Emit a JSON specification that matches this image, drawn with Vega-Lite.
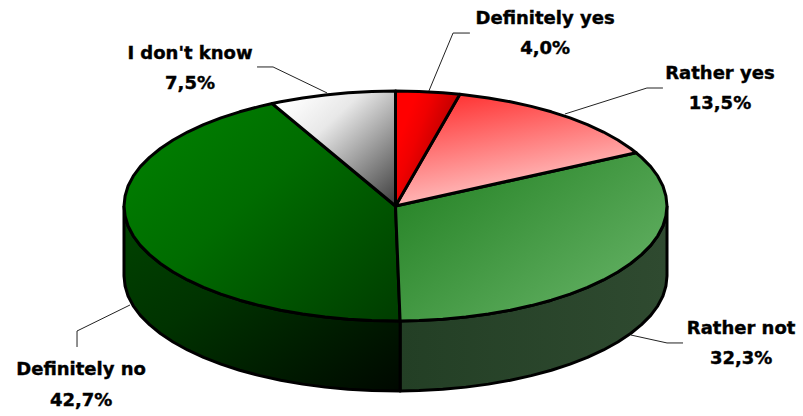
{"$schema":"https://vega.github.io/schema/vega-lite/v6.json","width":803,"height":416,"padding":0,"autosize":{"type":"fit","contains":"padding"},"background":"white","config":{"view":{"stroke":null}},
"datasets":{"pie":[
{"s":"Definitely yes","i":0,"u":0,"v":0},{"s":"Definitely yes","i":1,"u":0,"v":1},{"s":"Definitely yes","i":2,"u":0.087,"v":0.996},{"s":"Definitely yes","i":3,"u":0.174,"v":0.985},{"s":"Definitely yes","i":4,"u":0.237,"v":0.972},{"s":"Definitely yes","i":5,"u":0,"v":0},
{"s":"Rather yes","i":0,"u":0,"v":0},{"s":"Rather yes","i":1,"u":0.237,"v":0.972},{"s":"Rather yes","i":2,"u":0.259,"v":0.966},{"s":"Rather yes","i":3,"u":0.342,"v":0.94},{"s":"Rather yes","i":4,"u":0.423,"v":0.906},{"s":"Rather yes","i":5,"u":0.5,"v":0.866},{"s":"Rather yes","i":6,"u":0.574,"v":0.819},{"s":"Rather yes","i":7,"u":0.643,"v":0.766},{"s":"Rather yes","i":8,"u":0.707,"v":0.707},{"s":"Rather yes","i":9,"u":0.766,"v":0.643},{"s":"Rather yes","i":10,"u":0.819,"v":0.574},{"s":"Rather yes","i":11,"u":0.866,"v":0.5},{"s":"Rather yes","i":12,"u":0.886,"v":0.463},{"s":"Rather yes","i":13,"u":0,"v":0},
{"s":"Rather not","i":0,"u":0,"v":0},{"s":"Rather not","i":1,"u":0.886,"v":0.463},{"s":"Rather not","i":2,"u":0.906,"v":0.423},{"s":"Rather not","i":3,"u":0.94,"v":0.342},{"s":"Rather not","i":4,"u":0.966,"v":0.259},{"s":"Rather not","i":5,"u":0.985,"v":0.174},{"s":"Rather not","i":6,"u":0.996,"v":0.087},{"s":"Rather not","i":7,"u":1,"v":0},{"s":"Rather not","i":8,"u":0.996,"v":-0.087},{"s":"Rather not","i":9,"u":0.985,"v":-0.174},{"s":"Rather not","i":10,"u":0.966,"v":-0.259},{"s":"Rather not","i":11,"u":0.94,"v":-0.342},{"s":"Rather not","i":12,"u":0.906,"v":-0.423},{"s":"Rather not","i":13,"u":0.866,"v":-0.5},{"s":"Rather not","i":14,"u":0.819,"v":-0.574},{"s":"Rather not","i":15,"u":0.766,"v":-0.643},{"s":"Rather not","i":16,"u":0.707,"v":-0.707},{"s":"Rather not","i":17,"u":0.643,"v":-0.766},{"s":"Rather not","i":18,"u":0.574,"v":-0.819},{"s":"Rather not","i":19,"u":0.5,"v":-0.866},{"s":"Rather not","i":20,"u":0.423,"v":-0.906},{"s":"Rather not","i":21,"u":0.342,"v":-0.94},{"s":"Rather not","i":22,"u":0.259,"v":-0.966},{"s":"Rather not","i":23,"u":0.174,"v":-0.985},{"s":"Rather not","i":24,"u":0.087,"v":-0.996},{"s":"Rather not","i":25,"u":0.017,"v":-1},{"s":"Rather not","i":26,"u":0,"v":0},
{"s":"Definitely no","i":0,"u":0,"v":0},{"s":"Definitely no","i":1,"u":0.017,"v":-1},{"s":"Definitely no","i":2,"u":-0.087,"v":-0.996},{"s":"Definitely no","i":3,"u":-0.174,"v":-0.985},{"s":"Definitely no","i":4,"u":-0.259,"v":-0.966},{"s":"Definitely no","i":5,"u":-0.342,"v":-0.94},{"s":"Definitely no","i":6,"u":-0.423,"v":-0.906},{"s":"Definitely no","i":7,"u":-0.5,"v":-0.866},{"s":"Definitely no","i":8,"u":-0.574,"v":-0.819},{"s":"Definitely no","i":9,"u":-0.643,"v":-0.766},{"s":"Definitely no","i":10,"u":-0.707,"v":-0.707},{"s":"Definitely no","i":11,"u":-0.766,"v":-0.643},{"s":"Definitely no","i":12,"u":-0.819,"v":-0.574},{"s":"Definitely no","i":13,"u":-0.866,"v":-0.5},{"s":"Definitely no","i":14,"u":-0.906,"v":-0.423},{"s":"Definitely no","i":15,"u":-0.94,"v":-0.342},{"s":"Definitely no","i":16,"u":-0.966,"v":-0.259},{"s":"Definitely no","i":17,"u":-0.985,"v":-0.174},{"s":"Definitely no","i":18,"u":-0.996,"v":-0.087},{"s":"Definitely no","i":19,"u":-1,"v":0},{"s":"Definitely no","i":20,"u":-0.996,"v":0.087},{"s":"Definitely no","i":21,"u":-0.985,"v":0.174},{"s":"Definitely no","i":22,"u":-0.966,"v":0.259},{"s":"Definitely no","i":23,"u":-0.94,"v":0.342},{"s":"Definitely no","i":24,"u":-0.906,"v":0.423},{"s":"Definitely no","i":25,"u":-0.866,"v":0.5},{"s":"Definitely no","i":26,"u":-0.819,"v":0.574},{"s":"Definitely no","i":27,"u":-0.766,"v":0.643},{"s":"Definitely no","i":28,"u":-0.707,"v":0.707},{"s":"Definitely no","i":29,"u":-0.643,"v":0.766},{"s":"Definitely no","i":30,"u":-0.574,"v":0.819},{"s":"Definitely no","i":31,"u":-0.5,"v":0.866},{"s":"Definitely no","i":32,"u":-0.454,"v":0.891},{"s":"Definitely no","i":33,"u":0,"v":0},
{"s":"I don't know","i":0,"u":0,"v":0},{"s":"I don't know","i":1,"u":-0.454,"v":0.891},{"s":"I don't know","i":2,"u":-0.423,"v":0.906},{"s":"I don't know","i":3,"u":-0.342,"v":0.94},{"s":"I don't know","i":4,"u":-0.259,"v":0.966},{"s":"I don't know","i":5,"u":-0.174,"v":0.985},{"s":"I don't know","i":6,"u":-0.087,"v":0.996},{"s":"I don't know","i":7,"u":0,"v":1},{"s":"I don't know","i":8,"u":0,"v":0},
{"s":"Rather not side","i":0,"u":1,"v":0},{"s":"Rather not side","i":1,"u":0.996,"v":-0.087},{"s":"Rather not side","i":2,"u":0.985,"v":-0.174},{"s":"Rather not side","i":3,"u":0.966,"v":-0.259},{"s":"Rather not side","i":4,"u":0.94,"v":-0.342},{"s":"Rather not side","i":5,"u":0.906,"v":-0.423},{"s":"Rather not side","i":6,"u":0.866,"v":-0.5},{"s":"Rather not side","i":7,"u":0.819,"v":-0.574},{"s":"Rather not side","i":8,"u":0.766,"v":-0.643},{"s":"Rather not side","i":9,"u":0.707,"v":-0.707},{"s":"Rather not side","i":10,"u":0.643,"v":-0.766},{"s":"Rather not side","i":11,"u":0.574,"v":-0.819},{"s":"Rather not side","i":12,"u":0.5,"v":-0.866},{"s":"Rather not side","i":13,"u":0.423,"v":-0.906},{"s":"Rather not side","i":14,"u":0.342,"v":-0.94},{"s":"Rather not side","i":15,"u":0.259,"v":-0.966},{"s":"Rather not side","i":16,"u":0.174,"v":-0.985},{"s":"Rather not side","i":17,"u":0.087,"v":-0.996},{"s":"Rather not side","i":18,"u":0.017,"v":-1},{"s":"Rather not side","i":19,"u":0.017,"v":-1.609},{"s":"Rather not side","i":20,"u":0.087,"v":-1.605},{"s":"Rather not side","i":21,"u":0.174,"v":-1.594},{"s":"Rather not side","i":22,"u":0.259,"v":-1.575},{"s":"Rather not side","i":23,"u":0.342,"v":-1.549},{"s":"Rather not side","i":24,"u":0.423,"v":-1.515},{"s":"Rather not side","i":25,"u":0.5,"v":-1.475},{"s":"Rather not side","i":26,"u":0.574,"v":-1.428},{"s":"Rather not side","i":27,"u":0.643,"v":-1.375},{"s":"Rather not side","i":28,"u":0.707,"v":-1.316},{"s":"Rather not side","i":29,"u":0.766,"v":-1.252},{"s":"Rather not side","i":30,"u":0.819,"v":-1.183},{"s":"Rather not side","i":31,"u":0.866,"v":-1.109},{"s":"Rather not side","i":32,"u":0.906,"v":-1.032},{"s":"Rather not side","i":33,"u":0.94,"v":-0.951},{"s":"Rather not side","i":34,"u":0.966,"v":-0.868},{"s":"Rather not side","i":35,"u":0.985,"v":-0.783},{"s":"Rather not side","i":36,"u":0.996,"v":-0.696},{"s":"Rather not side","i":37,"u":1,"v":-0.609},{"s":"Rather not side","i":38,"u":1,"v":0},
{"s":"Definitely no side","i":0,"u":-1,"v":0},{"s":"Definitely no side","i":1,"u":-0.996,"v":-0.087},{"s":"Definitely no side","i":2,"u":-0.985,"v":-0.174},{"s":"Definitely no side","i":3,"u":-0.966,"v":-0.259},{"s":"Definitely no side","i":4,"u":-0.94,"v":-0.342},{"s":"Definitely no side","i":5,"u":-0.906,"v":-0.423},{"s":"Definitely no side","i":6,"u":-0.866,"v":-0.5},{"s":"Definitely no side","i":7,"u":-0.819,"v":-0.574},{"s":"Definitely no side","i":8,"u":-0.766,"v":-0.643},{"s":"Definitely no side","i":9,"u":-0.707,"v":-0.707},{"s":"Definitely no side","i":10,"u":-0.643,"v":-0.766},{"s":"Definitely no side","i":11,"u":-0.574,"v":-0.819},{"s":"Definitely no side","i":12,"u":-0.5,"v":-0.866},{"s":"Definitely no side","i":13,"u":-0.423,"v":-0.906},{"s":"Definitely no side","i":14,"u":-0.342,"v":-0.94},{"s":"Definitely no side","i":15,"u":-0.259,"v":-0.966},{"s":"Definitely no side","i":16,"u":-0.174,"v":-0.985},{"s":"Definitely no side","i":17,"u":-0.087,"v":-0.996},{"s":"Definitely no side","i":18,"u":0.017,"v":-1},{"s":"Definitely no side","i":19,"u":0.017,"v":-1.609},{"s":"Definitely no side","i":20,"u":-0.087,"v":-1.605},{"s":"Definitely no side","i":21,"u":-0.174,"v":-1.594},{"s":"Definitely no side","i":22,"u":-0.259,"v":-1.575},{"s":"Definitely no side","i":23,"u":-0.342,"v":-1.549},{"s":"Definitely no side","i":24,"u":-0.423,"v":-1.515},{"s":"Definitely no side","i":25,"u":-0.5,"v":-1.475},{"s":"Definitely no side","i":26,"u":-0.574,"v":-1.428},{"s":"Definitely no side","i":27,"u":-0.643,"v":-1.375},{"s":"Definitely no side","i":28,"u":-0.707,"v":-1.316},{"s":"Definitely no side","i":29,"u":-0.766,"v":-1.252},{"s":"Definitely no side","i":30,"u":-0.819,"v":-1.183},{"s":"Definitely no side","i":31,"u":-0.866,"v":-1.109},{"s":"Definitely no side","i":32,"u":-0.906,"v":-1.032},{"s":"Definitely no side","i":33,"u":-0.94,"v":-0.951},{"s":"Definitely no side","i":34,"u":-0.966,"v":-0.868},{"s":"Definitely no side","i":35,"u":-0.985,"v":-0.783},{"s":"Definitely no side","i":36,"u":-0.996,"v":-0.696},{"s":"Definitely no side","i":37,"u":-1,"v":-0.609},{"s":"Definitely no side","i":38,"u":-1,"v":0}
],
"leaders":[
{"s":"Definitely yes","i":0,"u":0.123,"v":1.0},{"s":"Definitely yes","i":1,"u":0.212,"v":1.504},{"s":"Definitely yes","i":2,"u":0.274,"v":1.504},
{"s":"Rather yes","i":0,"u":0.624,"v":0.8},{"s":"Rather yes","i":1,"u":0.926,"v":1.026},{"s":"Rather yes","i":2,"u":0.985,"v":1.026},
{"s":"Rather not","i":0,"u":0.867,"v":-1.122},{"s":"Rather not","i":1,"u":1.0,"v":-1.191},{"s":"Rather not","i":2,"u":1.059,"v":-1.191},
{"s":"Definitely no","i":0,"u":-0.978,"v":-0.861},{"s":"Definitely no","i":1,"u":-1.173,"v":-1.087},{"s":"Definitely no","i":2,"u":-1.173,"v":-1.226},
{"s":"I don't know","i":0,"u":-0.252,"v":0.983},{"s":"I don't know","i":1,"u":-0.451,"v":1.209},{"s":"I don't know","i":2,"u":-0.51,"v":1.209}
],
"labels":[
{"t":"Definitely yes","u":0.551,"v":1.626},{"t":"4,0%","u":0.551,"v":1.365},
{"t":"Rather yes","u":1.195,"v":1.148},{"t":"13,5%","u":1.195,"v":0.887},
{"t":"Rather not","u":1.273,"v":-1.07},{"t":"32,3%","u":1.273,"v":-1.33},
{"t":"Definitely no","u":-1.158,"v":-1.426},{"t":"42,7%","u":-1.158,"v":-1.696},
{"t":"I don't know","u":-0.757,"v":1.322},{"t":"7,5%","u":-0.757,"v":1.061}
]},
"encoding":{"x":{"field":"u","type":"quantitative","axis":null,"scale":{"domain":[-1.4567,1.5009],"nice":false,"zero":false}},"y":{"field":"v","type":"quantitative","axis":null,"scale":{"domain":[-1.8261,1.7913],"nice":false,"zero":false}}},
"layer":[
{"data":{"name":"pie"},"transform":[{"filter":"datum.s=='Rather not side'"}],"mark":{"type":"line","strokeWidth":3,"stroke":"black","strokeJoin":"round","fill":{"gradient":"linear","x1":0,"y1":0,"x2":1,"y2":0,"stops":[{"offset":0,"color":"#233f25"},{"offset":1,"color":"#2f4a30"}]}},"encoding":{"order":{"field":"i","type":"quantitative"}}},
{"data":{"name":"pie"},"transform":[{"filter":"datum.s=='Definitely no side'"}],"mark":{"type":"line","strokeWidth":3,"stroke":"black","strokeJoin":"round","fill":{"gradient":"linear","x1":0,"y1":0,"x2":1,"y2":1,"stops":[{"offset":0,"color":"#004400"},{"offset":0.4,"color":"#003300"},{"offset":1,"color":"#000800"}]}},"encoding":{"order":{"field":"i","type":"quantitative"}}},
{"data":{"name":"pie"},"transform":[{"filter":"datum.s=='Definitely no'"}],"mark":{"type":"line","strokeWidth":3,"stroke":"black","strokeJoin":"round","fill":{"gradient":"linear","x1":0.1,"y1":0.2,"x2":1,"y2":1,"stops":[{"offset":0,"color":"#007c00"},{"offset":0.35,"color":"#006c00"},{"offset":1,"color":"#003c00"}]}},"encoding":{"order":{"field":"i","type":"quantitative"}}},
{"data":{"name":"pie"},"transform":[{"filter":"datum.s=='Rather not'"}],"mark":{"type":"line","strokeWidth":3,"stroke":"black","strokeJoin":"round","fill":{"gradient":"linear","x1":0,"y1":0.3,"x2":0.7,"y2":0.9,"stops":[{"offset":0,"color":"#2a862a"},{"offset":1,"color":"#5cab5c"}]}},"encoding":{"order":{"field":"i","type":"quantitative"}}},
{"data":{"name":"pie"},"transform":[{"filter":"datum.s=='Rather yes'"}],"mark":{"type":"line","strokeWidth":3,"stroke":"black","strokeJoin":"round","fill":{"gradient":"linear","x1":0.2,"y1":0,"x2":0.55,"y2":0.9,"stops":[{"offset":0,"color":"#ff3030"},{"offset":1,"color":"#ffc4c4"}]}},"encoding":{"order":{"field":"i","type":"quantitative"}}},
{"data":{"name":"pie"},"transform":[{"filter":"datum.s=='Definitely yes'"}],"mark":{"type":"line","strokeWidth":3,"stroke":"black","strokeJoin":"round","fill":{"gradient":"linear","x1":0.2,"y1":0.2,"x2":0.8,"y2":0.6,"stops":[{"offset":0,"color":"#ff0000"},{"offset":0.3,"color":"#f00000"},{"offset":1,"color":"#b00000"}]}},"encoding":{"order":{"field":"i","type":"quantitative"}}},
{"data":{"name":"pie"},"transform":[{"filter":"datum.s==\"I don't know\""}],"mark":{"type":"line","strokeWidth":3,"stroke":"black","strokeJoin":"round","fill":{"gradient":"linear","x1":0.1,"y1":0.1,"x2":1,"y2":1,"stops":[{"offset":0,"color":"#ffffff"},{"offset":0.3,"color":"#e8e8e8"},{"offset":1,"color":"#3c3c3c"}]}},"encoding":{"order":{"field":"i","type":"quantitative"}}},
{"data":{"name":"leaders"},"mark":{"type":"line","stroke":"#222222","strokeWidth":1},"encoding":{"detail":{"field":"s"},"order":{"field":"i","type":"quantitative"}}},
{"data":{"name":"labels"},"mark":{"type":"text","font":"DejaVu Sans","fontWeight":"bold","fontSize":18,"color":"black","stroke":"black","strokeWidth":0.4,"align":"center","baseline":"middle"},"encoding":{"text":{"field":"t"}}}
]}
